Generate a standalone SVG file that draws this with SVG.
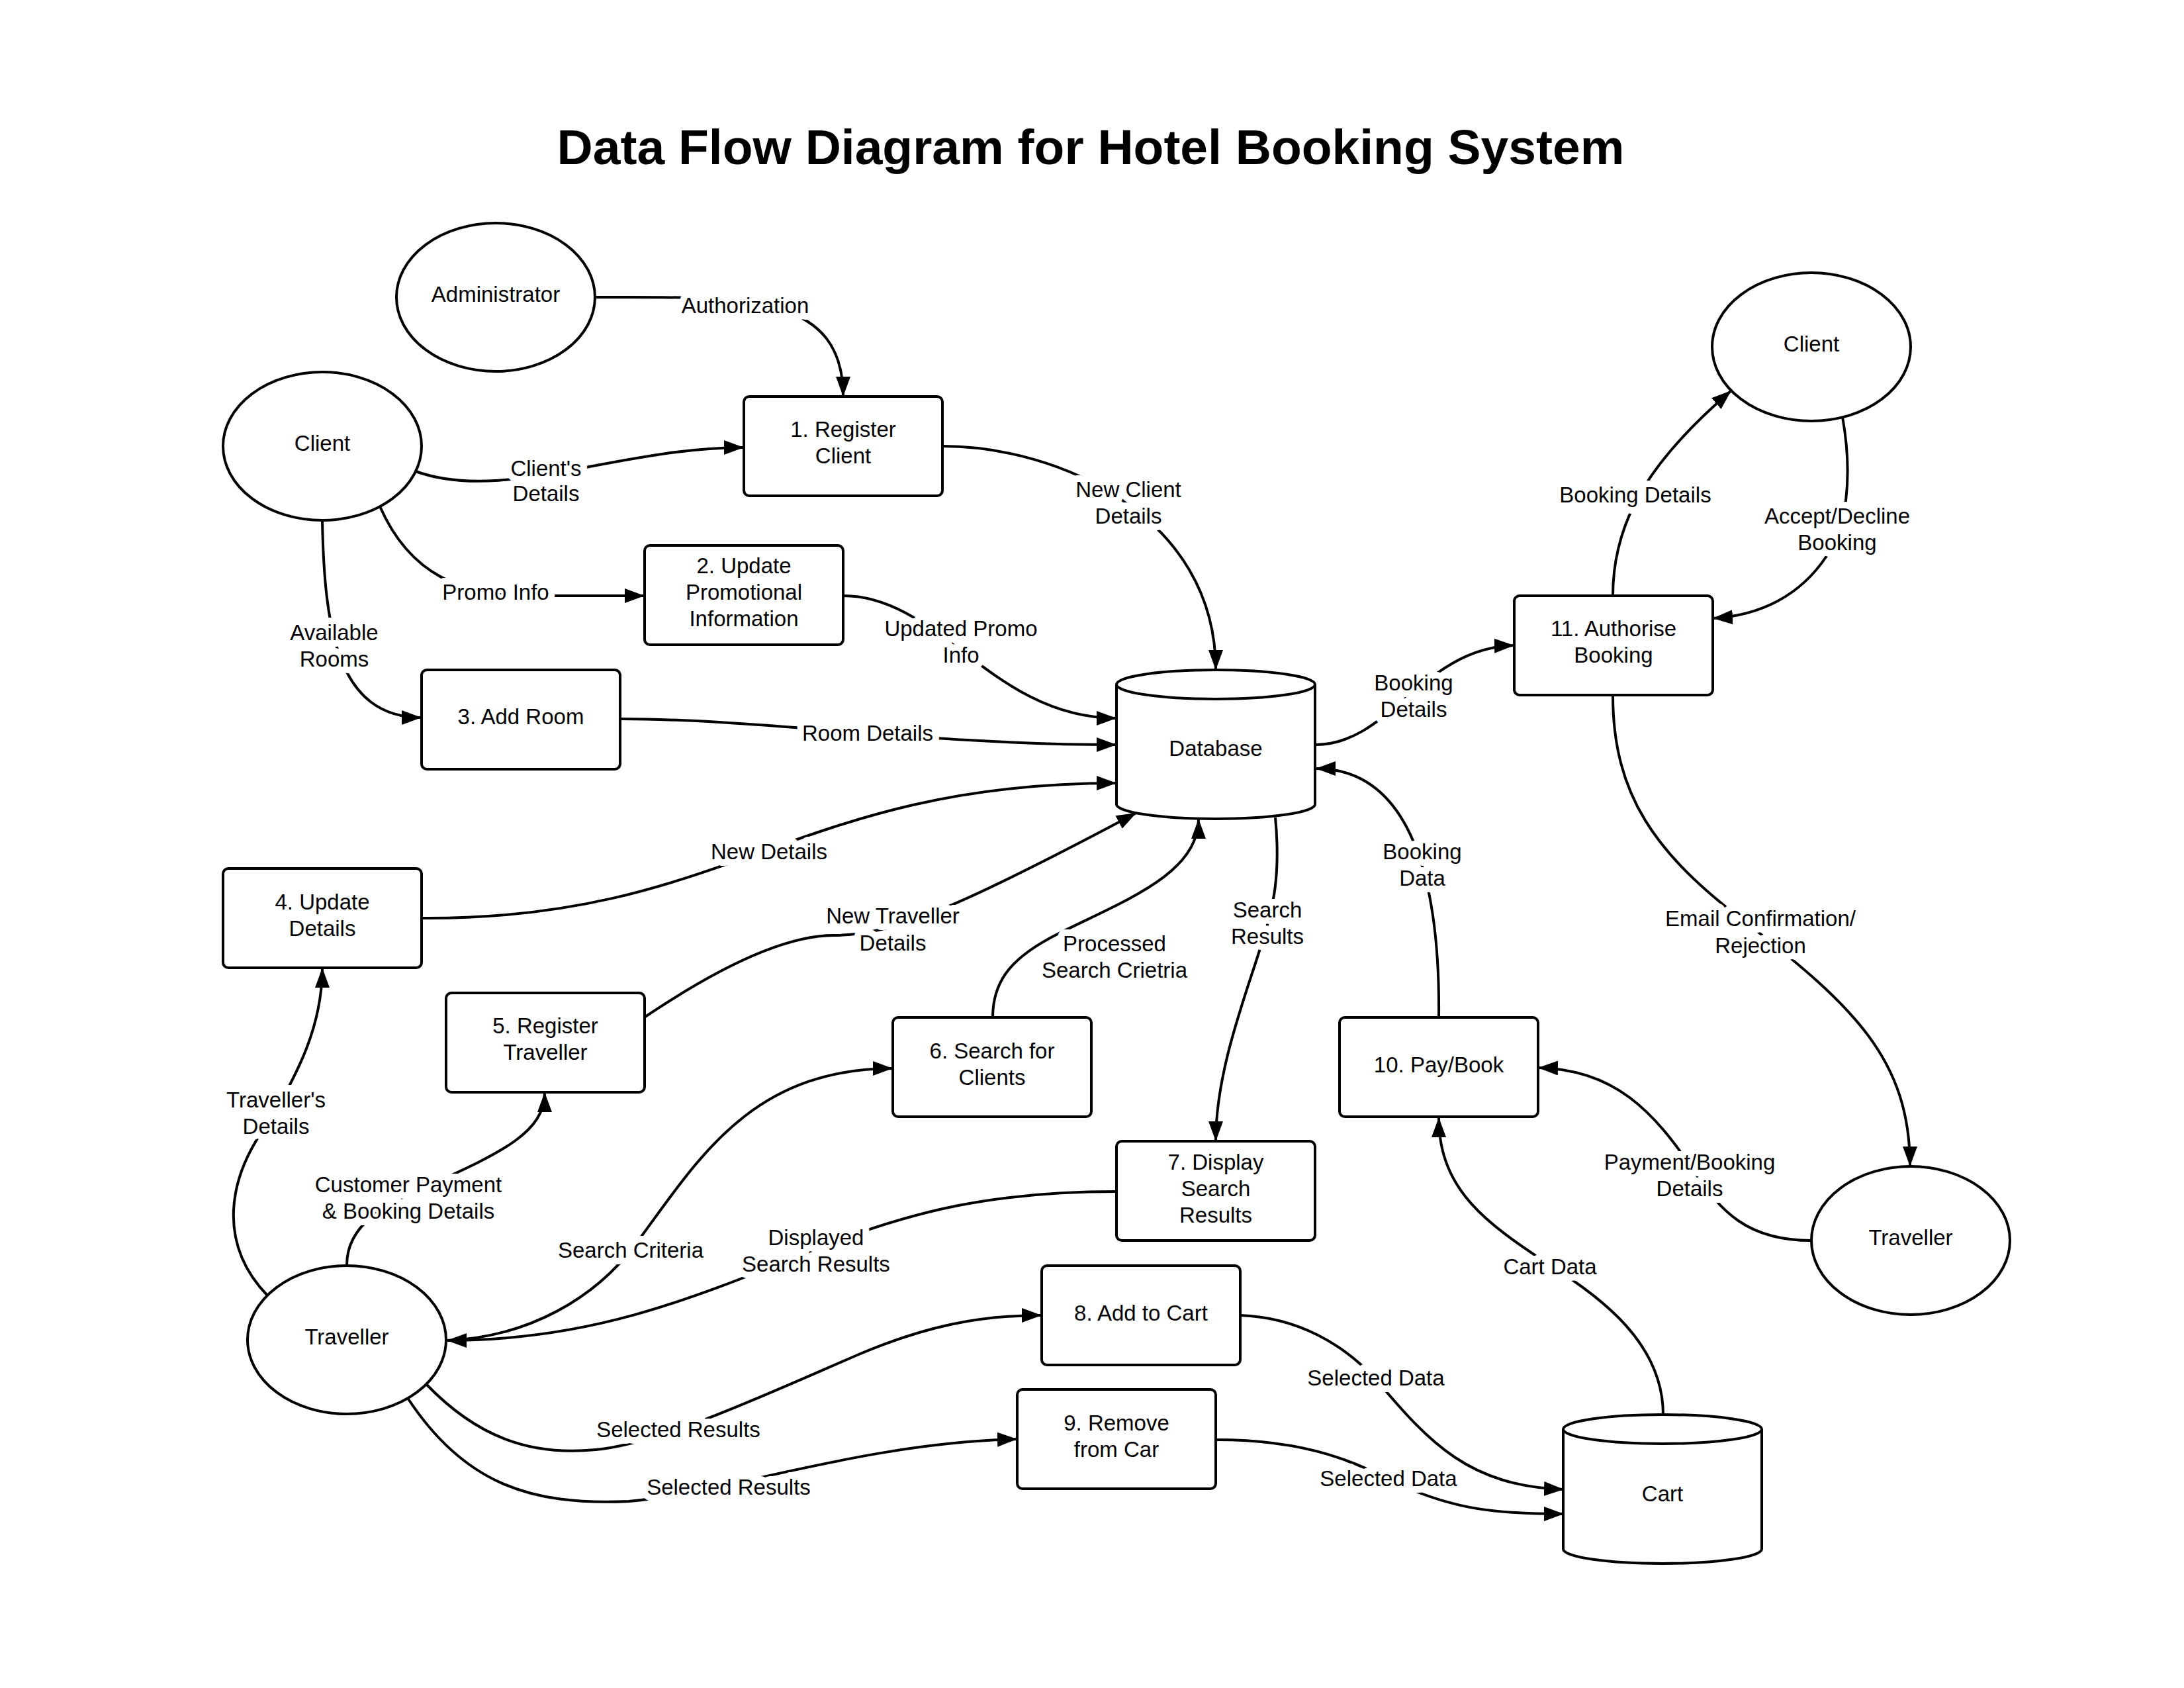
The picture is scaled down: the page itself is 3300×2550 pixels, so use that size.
<svg xmlns="http://www.w3.org/2000/svg" width="3300" height="2550" viewBox="0 0 3300 2550">
<style>
.shape{fill:#fff;stroke:#000;stroke-width:4}
.t{font-family:"Liberation Sans",Arial,sans-serif;font-size:33px;text-anchor:middle;fill:#000}
.title{font-family:"Liberation Sans",Arial,sans-serif;font-size:75px;font-weight:bold;text-anchor:middle;fill:#000}
.flow{fill:none;stroke:#000;stroke-width:4;marker-end:url(#arrow)}
.fl{font-family:"Liberation Sans",Arial,sans-serif;font-size:33px;text-anchor:middle;fill:#000;stroke:#fff;stroke-width:20;stroke-linejoin:round;paint-order:stroke}
</style>
<defs>
<marker id="arrow" markerUnits="userSpaceOnUse" markerWidth="32" markerHeight="24" refX="30" refY="11" orient="auto">
<path d="M0,0 L30,11 L0,22 Z" fill="#000"/>
</marker>
</defs>
<rect width="3300" height="2550" fill="#fff"/>
<text class="title" x="1648" y="248">Data Flow Diagram for Hotel Booking System</text>

<g id="connectors">
<path id="c1" class="flow" d="M899 449 C1120 449 1274 440 1274 599"/>
<path id="c2" class="flow" d="M628 712 C760 760 930 676 1124 676"/>
<path id="c3" class="flow" d="M574 765 C620 870 700 900 800 900 L974 900"/>
<path id="c4" class="flow" d="M487 786 C490 950 510 1084 637 1084"/>
<path id="c5" class="flow" d="M1424 674 C1600 674 1837 780 1837 1012"/>
<path id="c6" class="flow" d="M1274 900 C1420 900 1500 1085 1687 1085"/>
<path id="c7" class="flow" d="M937 1086 C1150 1086 1400 1125 1687 1125"/>
<path id="c8" class="flow" d="M637 1387 C1100 1390 1200 1183 1687 1183"/>
<path id="c9" class="flow" d="M975 1536 C1110 1445 1200 1413 1260 1413 C1350 1413 1450 1370 1717 1228"/>
<path id="c10" class="flow" d="M1500 1537 C1500 1480 1530 1445 1600 1410 C1700 1360 1811 1320 1811 1237"/>
<path id="c11" class="flow" d="M1927 1235 C1935 1320 1925 1370 1905 1430 C1880 1510 1837 1620 1837 1724"/>
<path id="c12" class="flow" d="M2174 1537 C2176 1350 2140 1161 1988 1161"/>
<path id="c13" class="flow" d="M1988 1125 C2100 1125 2150 978 2288 975"/>
<path id="c14" class="flow" d="M2437 900 C2437 780 2500 690 2616 590"/>
<path id="c15" class="flow" d="M2784 630 C2800 720 2790 800 2760 840 C2720 900 2660 930 2588 934"/>
<path id="c16" class="flow" d="M2437 1050 C2437 1200 2500 1290 2640 1395 C2800 1520 2886 1600 2886 1762"/>
<path id="c17" class="flow" d="M2737 1874 C2640 1874 2600 1830 2560 1770 C2500 1680 2440 1615 2324 1613"/>
<path id="c18" class="flow" d="M2513 2137 C2513 2030 2420 1960 2340 1910 C2250 1850 2174 1800 2174 1688"/>
<path id="c19" class="flow" d="M1687 1800 C1500 1800 1380 1830 1250 1880 C1050 1960 900 2025 675 2025"/>
<path id="c20" class="flow" d="M675 2025 C800 2020 900 1960 960 1880 C1050 1760 1130 1614 1349 1614"/>
<path id="c21" class="flow" d="M644 2091 C720 2170 800 2200 900 2190 C1000 2180 1150 2110 1300 2045 C1400 2003 1480 1987 1574 1987"/>
<path id="c22" class="flow" d="M616 2112 C700 2240 800 2275 950 2268 C1100 2255 1300 2180 1537 2174"/>
<path id="c23" class="flow" d="M1874 1987 C1960 1990 2030 2030 2080 2085 C2160 2180 2220 2245 2363 2250"/>
<path id="c24" class="flow" d="M1837 2175 C1980 2175 2050 2210 2120 2245 C2200 2280 2260 2287 2363 2287"/>
<path id="c25" class="flow" d="M404 1957 C330 1880 340 1780 410 1690 C450 1620 487 1550 487 1462"/>
<path id="c26" class="flow" d="M524 1911 C524 1850 580 1820 650 1790 C760 1740 823 1710 823 1650"/>
</g>

<g id="connector-labels">
<text class="fl" x="1126" y="473">Authorization</text>
<text class="fl" x="825" y="719">Client's<tspan x="825" dy="38">Details</tspan></text>
<text class="fl" x="749" y="906">Promo Info</text>
<text class="fl" x="505" y="967">Available<tspan x="505" dy="40">Rooms</tspan></text>
<text class="fl" x="1705" y="751">New Client<tspan x="1705" dy="40">Details</tspan></text>
<text class="fl" x="1452" y="961">Updated Promo<tspan x="1452" dy="40">Info</tspan></text>
<text class="fl" x="1311" y="1119">Room Details</text>
<text class="fl" x="1162" y="1298">New Details</text>
<text class="fl" x="1349" y="1395">New Traveller<tspan x="1349" dy="41">Details</tspan></text>
<text class="fl" x="1684" y="1437">Processed<tspan x="1684" dy="40">Search Crietria</tspan></text>
<text class="fl" x="1915" y="1386">Search<tspan x="1915" dy="40">Results</tspan></text>
<text class="fl" x="2149" y="1298">Booking<tspan x="2149" dy="40">Data</tspan></text>
<text class="fl" x="2136" y="1043">Booking<tspan x="2136" dy="40">Details</tspan></text>
<text class="fl" x="2471" y="759">Booking Details</text>
<text class="fl" x="2776" y="791">Accept/Decline<tspan x="2776" dy="40">Booking</tspan></text>
<text class="fl" x="2660" y="1399">Email Confirmation/<tspan x="2660" dy="41">Rejection</tspan></text>
<text class="fl" x="2553" y="1767">Payment/Booking<tspan x="2553" dy="40">Details</tspan></text>
<text class="fl" x="2342" y="1925">Cart Data</text>
<text class="fl" x="417" y="1673">Traveller's<tspan x="417" dy="40">Details</tspan></text>
<text class="fl" x="617" y="1801">Customer Payment<tspan x="617" dy="40">&amp; Booking Details</tspan></text>
<text class="fl" x="953" y="1900">Search Criteria</text>
<text class="fl" x="1233" y="1881">Displayed<tspan x="1233" dy="40">Search Results</tspan></text>
<text class="fl" x="1025" y="2171">Selected Results</text>
<text class="fl" x="1101" y="2258">Selected Results</text>
<text class="fl" x="2079" y="2093">Selected Data</text>
<text class="fl" x="2098" y="2245">Selected Data</text>
</g>

<g id="administrator"><ellipse class="shape" cx="749" cy="449" rx="150" ry="112"/><text class="t" x="749" y="456">Administrator</text></g>
<g id="client-left"><ellipse class="shape" cx="487" cy="674" rx="150" ry="112"/><text class="t" x="487" y="681">Client</text></g>
<g id="client-right"><ellipse class="shape" cx="2737" cy="524" rx="150" ry="112"/><text class="t" x="2737" y="531">Client</text></g>
<g id="traveller-left"><ellipse class="shape" cx="524" cy="2024" rx="150" ry="112"/><text class="t" x="524" y="2031">Traveller</text></g>
<g id="traveller-right"><ellipse class="shape" cx="2887" cy="1874" rx="150" ry="112"/><text class="t" x="2887" y="1881">Traveller</text></g>

<g id="p1"><rect class="shape" x="1124" y="599" width="300" height="150" rx="8"/><text class="t" x="1274" y="660">1. Register<tspan x="1274" dy="40">Client</tspan></text></g>
<g id="p2"><rect class="shape" x="974" y="824" width="300" height="150" rx="8"/><text class="t" x="1124" y="866">2. Update<tspan x="1124" dy="40">Promotional</tspan><tspan x="1124" dy="40">Information</tspan></text></g>
<g id="p3"><rect class="shape" x="637" y="1012" width="300" height="150" rx="8"/><text class="t" x="787" y="1094">3. Add Room</text></g>
<g id="p4"><rect class="shape" x="337" y="1312" width="300" height="150" rx="8"/><text class="t" x="487" y="1374">4. Update<tspan x="487" dy="40">Details</tspan></text></g>
<g id="p5"><rect class="shape" x="674" y="1500" width="300" height="150" rx="8"/><text class="t" x="824" y="1561">5. Register<tspan x="824" dy="40">Traveller</tspan></text></g>
<g id="p6"><rect class="shape" x="1349" y="1537" width="300" height="150" rx="8"/><text class="t" x="1499" y="1599">6. Search for<tspan x="1499" dy="40">Clients</tspan></text></g>
<g id="p7"><rect class="shape" x="1687" y="1724" width="300" height="150" rx="8"/><text class="t" x="1837" y="1767">7. Display<tspan x="1837" dy="40">Search</tspan><tspan x="1837" dy="40">Results</tspan></text></g>
<g id="p8"><rect class="shape" x="1574" y="1912" width="300" height="150" rx="8"/><text class="t" x="1724" y="1995">8. Add to Cart</text></g>
<g id="p9"><rect class="shape" x="1537" y="2099" width="300" height="150" rx="8"/><text class="t" x="1687" y="2161">9. Remove<tspan x="1687" dy="40">from Car</tspan></text></g>
<g id="p10"><rect class="shape" x="2024" y="1537" width="300" height="150" rx="8"/><text class="t" x="2174" y="1620">10. Pay/Book</text></g>
<g id="p11"><rect class="shape" x="2288" y="900" width="300" height="150" rx="8"/><text class="t" x="2438" y="961">11. Authorise<tspan x="2438" dy="40">Booking</tspan></text></g>

<g id="database">
<path class="shape" d="M1687 1034 L1687 1215 A150 22 0 0 0 1987 1215 L1987 1034"/>
<ellipse class="shape" cx="1837" cy="1034" rx="150" ry="22"/>
<text class="t" x="1837" y="1142">Database</text>
</g>
<g id="cart">
<path class="shape" d="M2362 2159 L2362 2340 A150 22 0 0 0 2662 2340 L2662 2159"/>
<ellipse class="shape" cx="2512" cy="2159" rx="150" ry="22"/>
<text class="t" x="2512" y="2268">Cart</text>
</g>
</svg>
